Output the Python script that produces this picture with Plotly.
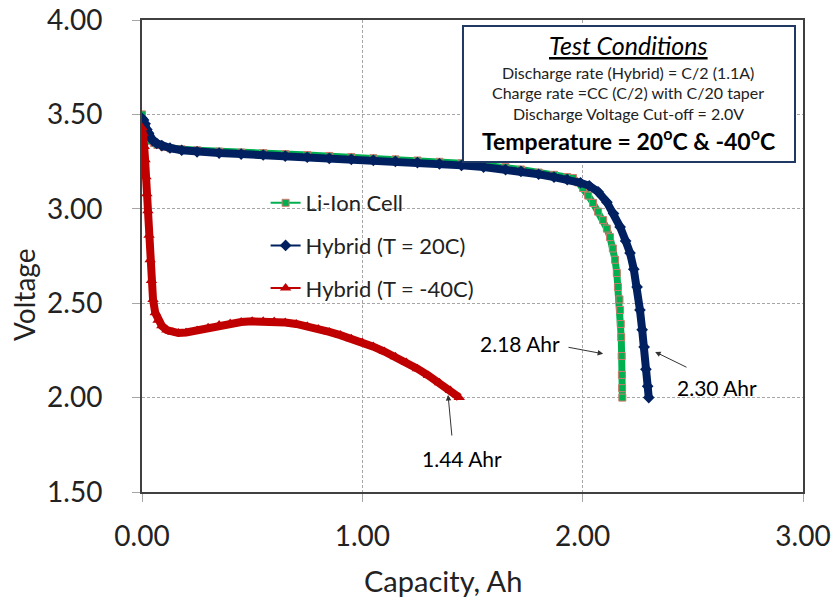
import plotly.graph_objects as go

# ---- discharge data: capacity (Ah) vs cell voltage (V) ----
liion_cap = [0.000, 0.008, 0.015, 0.025, 0.040, 0.055, 0.070, 0.100, 0.130, 0.180,
             0.250, 0.350, 0.450, 0.550, 0.650, 0.750, 0.850, 0.950, 1.050, 1.150,
             1.250, 1.350, 1.450, 1.550, 1.650, 1.720, 1.800, 1.870, 1.930, 1.956,
             1.980, 2.002, 2.025, 2.047, 2.070, 2.093, 2.110, 2.124, 2.137, 2.147,
             2.155, 2.160, 2.167, 2.170, 2.173, 2.175, 2.177, 2.178, 2.179, 2.180]
liion_v = [3.500, 3.460, 3.420, 3.385, 3.360, 3.348, 3.338, 3.327, 3.320, 3.315,
           3.310, 3.303, 3.298, 3.295, 3.290, 3.285, 3.280, 3.274, 3.268, 3.262,
           3.256, 3.249, 3.241, 3.232, 3.221, 3.208, 3.192, 3.180, 3.168, 3.163,
           3.140, 3.110, 3.070, 3.031, 2.985, 2.940, 2.895, 2.850, 2.790, 2.730,
           2.660, 2.586, 2.520, 2.464, 2.390, 2.320, 2.220, 2.120, 2.050, 2.000]

hyb20_cap = [0.000, 0.007, 0.014, 0.022, 0.030, 0.040, 0.050, 0.067, 0.090, 0.127,
             0.180, 0.250, 0.350, 0.450, 0.550, 0.650, 0.750, 0.850, 0.950, 1.050,
             1.150, 1.250, 1.350, 1.450, 1.550, 1.650, 1.720, 1.800, 1.870, 1.930,
             1.990, 2.030, 2.070, 2.110, 2.140, 2.170, 2.195, 2.215, 2.232, 2.247,
             2.260, 2.270, 2.279, 2.287, 2.295, 2.300]
hyb20_v = [3.479, 3.470, 3.450, 3.420, 3.400, 3.375, 3.360, 3.347, 3.335, 3.322,
           3.310, 3.302, 3.295, 3.290, 3.285, 3.279, 3.273, 3.267, 3.262, 3.257,
           3.251, 3.245, 3.238, 3.230, 3.221, 3.208, 3.198, 3.183, 3.168, 3.155,
           3.138, 3.122, 3.090, 3.035, 2.975, 2.904, 2.830, 2.766, 2.680, 2.586,
           2.464, 2.360, 2.268, 2.150, 2.060, 2.000]

hybm40_cap = [0.000, 0.005, 0.010, 0.014, 0.018, 0.022, 0.027, 0.032, 0.037, 0.043,
              0.050, 0.060, 0.073, 0.090, 0.113, 0.140, 0.165, 0.200, 0.250, 0.300,
              0.350, 0.400, 0.450, 0.500, 0.550, 0.600, 0.650, 0.700, 0.750, 0.800,
              0.850, 0.900, 0.950, 1.000, 1.050, 1.100, 1.150, 1.200, 1.250, 1.300,
              1.350, 1.400, 1.440]
hybm40_v = [3.430, 3.400, 3.330, 3.260, 3.170, 3.080, 2.990, 2.860, 2.730, 2.620,
            2.520, 2.450, 2.410, 2.380, 2.358, 2.346, 2.342, 2.345, 2.356, 2.370,
            2.384, 2.393, 2.400, 2.404, 2.405, 2.403, 2.398, 2.390, 2.378, 2.364,
            2.348, 2.331, 2.312, 2.292, 2.270, 2.244, 2.216, 2.186, 2.153, 2.117,
            2.078, 2.038, 2.000]

series_names = ["Li-Ion Cell", "Hybrid (T = 20C)", "Hybrid (T = -40C)"]
end_capacity = [2.18, 2.30, 1.44]   # Ah at the 2.0 V cut-off

x_ticks = [0.0, 1.0, 2.0, 3.0]
y_ticks = [1.5, 2.0, 2.5, 3.0, 3.5, 4.0]

conditions = [
    "Discharge rate (Hybrid) = C/2 (1.1A)",
    "Charge rate =CC (C/2) with C/20 taper",
    "Discharge Voltage Cut-off = 2.0V",
]

FONT = "Lato"
GREEN = "#00B050"
NAVY = "#002060"
RED = "#C00000"

fig = go.Figure()

styles = [
    (liion_cap, liion_v, GREEN, 7, dict(symbol="square", size=7, color=GREEN,
                                        line=dict(color="#D07A6E", width=1))),
    (hyb20_cap, hyb20_v, NAVY, 8, dict(symbol="diamond", size=9, color=NAVY,
                                       line=dict(color=NAVY, width=0))),
    (hybm40_cap, hybm40_v, RED, 8, dict(symbol="triangle-up", size=10, color=RED,
                                        line=dict(color=RED, width=0))),
]

for i, (cx, vy, col, band, mk) in enumerate(styles):
    # dense band of the recorded curve
    fig.add_trace(go.Scatter(x=cx, y=vy, mode="lines",
                             line=dict(color=col, width=band),
                             showlegend=False, hoverinfo="skip"))
    # marker trace used for the legend entry
    fig.add_trace(go.Scatter(x=cx, y=vy, mode="lines+markers", name=series_names[i],
                             line=dict(color=col, width=2), marker=mk,
                             legendgroup=f"g{i}"))

ann = []
box_cx = (628 - 142) / 661


def py(ypx):
    return (492 - ypx) / 472


# test-condition box text
ann.append(dict(x=box_cx, y=py(45), xref="paper", yref="paper", showarrow=False,
                xanchor="center", yanchor="middle",
                text="<i><u>Test Conditions</u></i>",
                font=dict(family=FONT, size=25, color="black")))
for line, ypx in zip(conditions, [72, 92, 113]):
    ann.append(dict(x=box_cx, y=py(ypx), xref="paper", yref="paper",
                    xanchor="center", yanchor="middle",
                    showarrow=False, text=line,
                    font=dict(family=FONT, size=16, color="#222222")))
ann.append(dict(x=box_cx, y=py(139), xref="paper", yref="paper", showarrow=False,
                xanchor="center", yanchor="middle",
                text="<b>Temperature = 20<sup>o</sup>C &amp; -40<sup>o</sup>C</b>",
                font=dict(family=FONT, size=23, color="black")))

# end-of-discharge callouts
labels = [(1.716, 2.289, 1.929, 2.268, 2.093, 2.232),
          (2.610, 2.051, 2.478, 2.157, 2.329, 2.242),
          (1.453, 1.680, 1.407, 1.791, 1.389, 2.014)]
for (tx, ty, ax, ay, hx, hy), cap in zip(labels, end_capacity):
    ann.append(dict(x=tx, y=ty, xref="x", yref="y", showarrow=False,
                    xanchor="center", yanchor="middle",
                    text=f"{cap:.2f} Ahr", font=dict(family=FONT, size=21, color="black")))
    ann.append(dict(x=hx, y=hy, ax=ax, ay=ay, xref="x", yref="y", axref="x", ayref="y",
                    text="", showarrow=True, arrowhead=2, arrowsize=1.1, arrowwidth=1,
                    arrowcolor="#333333"))

# axis titles
ann.append(dict(x=(443 - 142) / 661, y=py(580), xref="paper", yref="paper", showarrow=False,
                xanchor="center", yanchor="middle",
                text="Capacity, Ah", font=dict(family=FONT, size=29, color="#222222")))
ann.append(dict(x=(24 - 142) / 661, y=py(295), xref="paper", yref="paper", showarrow=False,
                xanchor="center", yanchor="middle",
                text="Voltage", textangle=-90,
                font=dict(family=FONT, size=28, color="#222222")))

shapes = [
    # legend background hides the grid behind the legend
    dict(type="rect", xref="paper", yref="paper", x0=0.136, x1=0.534, y0=0.381, y1=0.657,
         fillcolor="white", line=dict(width=0), layer="between"),
    # test-condition frame
    dict(type="rect", xref="paper", yref="paper", x0=0.4856, x1=0.9879, y0=0.6992, y1=0.9873,
         fillcolor="white", line=dict(color="#1F3864", width=2), layer="above"),
]

axis_common = dict(
    showgrid=True, gridcolor="#A6A6A6", gridwidth=1, griddash="3px,2px",
    showline=True, linecolor="#404040", linewidth=2, mirror=True,
    ticks="outside", ticklen=8, tickcolor="#A6A6A6", tickwidth=1,
    tickformat=".2f", zeroline=False, automargin=False,
    tickfont=dict(family=FONT, size=28, color="#222222"),
)

fig.update_layout(
    width=834, height=603,
    margin=dict(l=142, r=31, t=20, b=111, autoexpand=False),
    paper_bgcolor="white", plot_bgcolor="white",
    xaxis=dict(range=[0, 3], tickvals=x_ticks, ticklabelstandoff=10, **axis_common),
    yaxis=dict(range=[1.5, 4.0], tickvals=y_ticks, ticklabelstandoff=24, **axis_common),
    legend=dict(x=0.187, y=py(182), xanchor="left", yanchor="top",
                bgcolor="rgba(0,0,0,0)", borderwidth=0, tracegroupgap=11,
                font=dict(family=FONT, size=22, color="#222222")),
    annotations=ann, shapes=shapes,
)

fig.write_html("out.html")
